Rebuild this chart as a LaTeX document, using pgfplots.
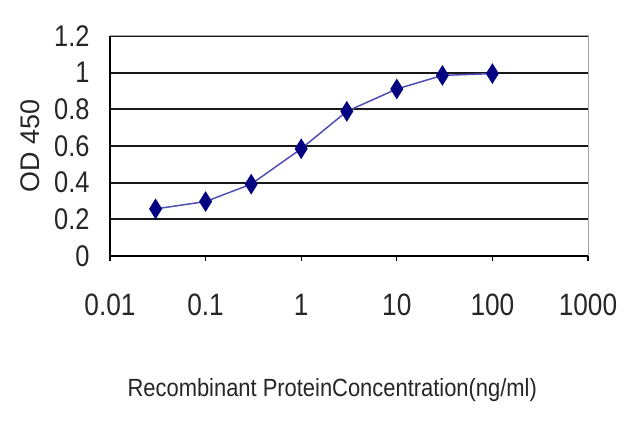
\documentclass[border=0pt]{standalone}
\usepackage{fontspec}
\setmainfont{Liberation Sans}
\newfontfamily\tickfont{Liberation Sans}[FakeStretch=0.85]
\newfontfamily\labfont{Liberation Sans}[FakeStretch=0.88]
\usepackage{pgfplots}
\pgfplotsset{compat=1.18}
\begin{document}
\begin{tikzpicture}
\begin{axis}[
  scale only axis,
  width=478bp, height=220bp,
  xmode=log,
  xmin=0.01, xmax=1000,
  ymin=0, ymax=1.2,
  xtick={0.01,0.1,1,10,100,1000},
  xticklabels={0.01,0.1,1,10,100,1000},
  ytick={0,0.2,0.4,0.6,0.8,1,1.2},
  yticklabels={0,0.2,0.4,0.6,0.8,1,1.2},
  xminorticks=false,
  ymajorgrids,
  major grid style={black!90, line width=2.2bp},
  axis line style={draw=none},
  x tick style={black, line width=1.2bp},
  xtick pos=bottom,
  major tick length=5bp,
  tick align=outside,
  ytick style={draw=none},
  xticklabel style={font=\fontsize{31}{31}\tickfont, yshift=-44bp, anchor=center, text=black!85},
  yticklabel style={font=\fontsize{30}{30}\tickfont, anchor=east, xshift=-12bp, text=black!85},
  xlabel={Recombinant ProteinConcentration(ng/ml)},
  xlabel style={font=\fontsize{25}{25}\labfont, at={(rel axis cs:0.465,0)}, anchor=center, yshift=-134bp, text=black!85},
  clip=false,
]
\coordinate (O) at (rel axis cs:0,0);
\draw[gray!70, line width=1bp] (rel axis cs:0,1) -- (rel axis cs:1,1) -- (rel axis cs:1,0);
\draw[black, line width=2bp] (rel axis cs:0,1) -- (rel axis cs:0,0) -- (rel axis cs:1,0);
\node[font=\fontsize{27}{27}\selectfont, rotate=90, anchor=center, text=black!85] at ([xshift=-80bp]rel axis cs:0,0.5) {OD 450};
\addplot[color={rgb,255:red,80;green,80;blue,180}, line width=1.5bp, mark=diamond*,
  mark size=7.5bp, mark options={fill={rgb,255:red,0;green,0;blue,128}, draw={rgb,255:red,0;green,0;blue,128}, yscale=1.2}]
  coordinates {
  (0.03,0.257) (0.1,0.297) (0.3,0.392) (1,0.585) (3,0.789) (10,0.911) (30,0.985) (100,0.995)
  };
\end{axis}
\pgfresetboundingbox
\path (O) ++(-110bp,-171bp) rectangle ++(640bp,427bp);
\end{tikzpicture}
\end{document}
